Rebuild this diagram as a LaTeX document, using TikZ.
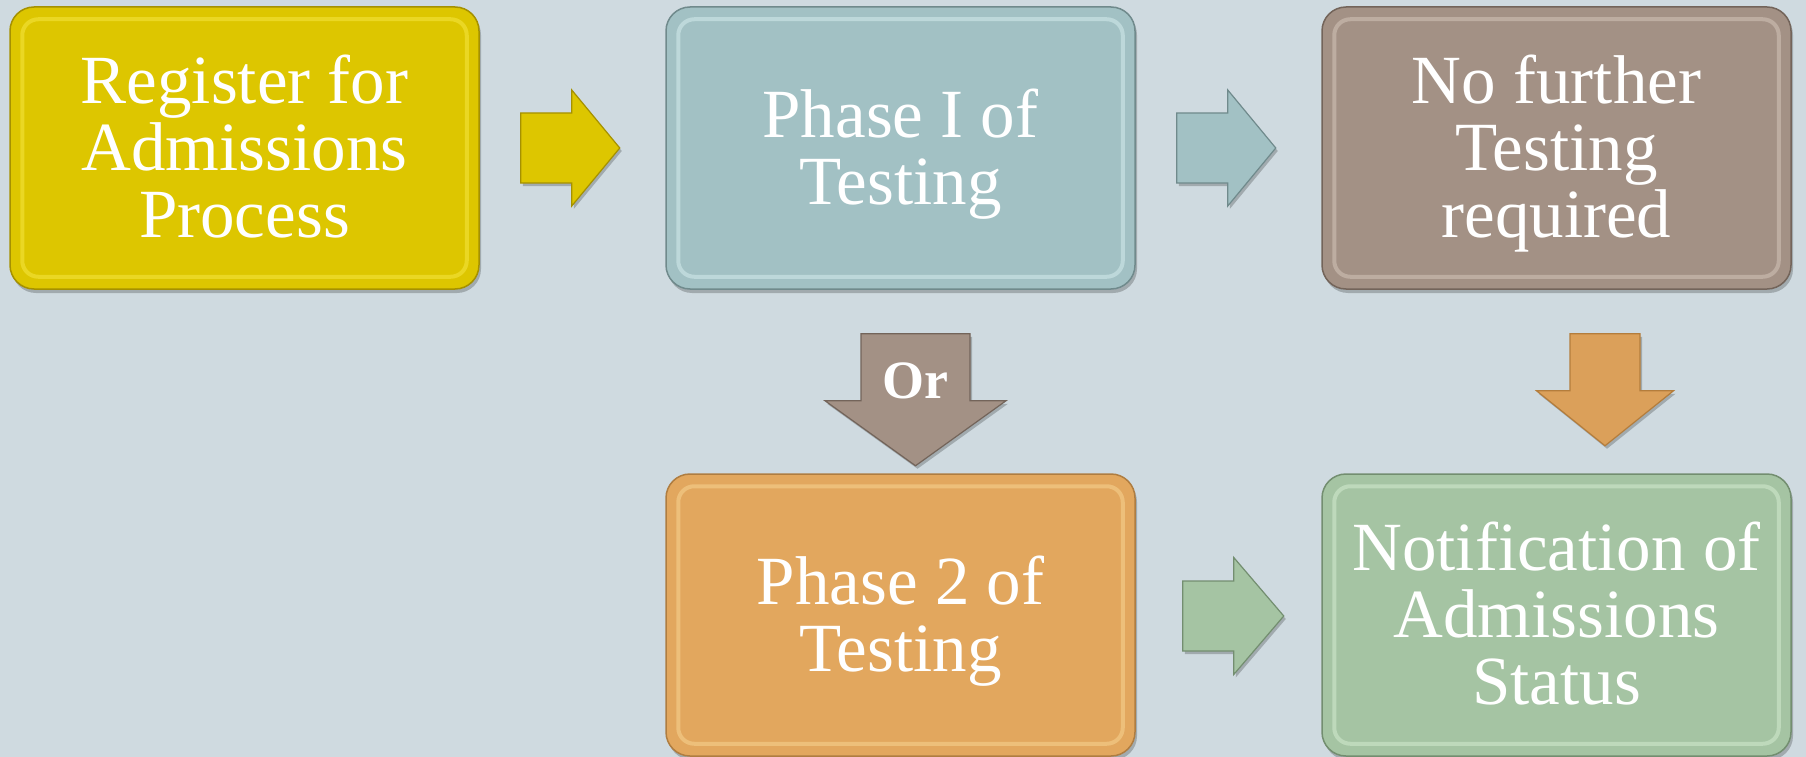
\documentclass[tikz,border=0pt]{standalone}
\usepackage{fontspec}
\setmainfont{Liberation Serif}
\usetikzlibrary{calc,shadows}
\definecolor{bg}{RGB}{207,218,224}
\definecolor{c1}{RGB}{221,198,0}\definecolor{c1d}{RGB}{165,145,0}\definecolor{c1r}{RGB}{255,242,90}
\definecolor{c2}{RGB}{162,193,196}\definecolor{c2d}{RGB}{112,138,140}\definecolor{c2r}{RGB}{230,252,252}
\definecolor{c3}{RGB}{163,145,133}\definecolor{c3d}{RGB}{115,100,90}\definecolor{c3r}{RGB}{230,215,205}
\definecolor{c4}{RGB}{226,167,94}\definecolor{c4d}{RGB}{175,125,65}\definecolor{c4r}{RGB}{255,228,165}
\definecolor{c5}{RGB}{165,196,163}\definecolor{c5d}{RGB}{115,142,112}\definecolor{c5r}{RGB}{228,250,225}
\definecolor{co}{RGB}{219,160,90}\definecolor{cod}{RGB}{180,125,60}
\newcommand\tline[1]{\smash{#1}\rule{0pt}{45pt}}
\tikzset{
  box/.style={rounded corners=24pt, minimum width=469pt, minimum height=282pt,
    inner sep=0pt, line width=1.5pt, text=white, align=center,
    font=\fontsize{69}{67}\selectfont,
    drop shadow={shadow xshift=2pt, shadow yshift=-4pt, opacity=0.22, fill=black}},
  rim/.style={rounded corners=16pt, line width=4pt, opacity=0.4},
  blk/.style={line width=1.2pt, line join=miter,
    drop shadow={shadow xshift=2pt, shadow yshift=-3pt, opacity=0.22, fill=black}},
}
\begin{document}
\begin{tikzpicture}[x=1pt,y=-1pt]
\useasboundingbox[fill=bg] (0,0) rectangle (1806,757);
% boxes
\node[box, fill=c1, draw=c1d] (b1) at (244.5,148) {\tline{Register for}\\\tline{Admissions}\\\tline{Process}};
\node[box, fill=c2, draw=c2d] (b2) at (900.5,148) {\tline{Phase I of}\\\tline{Testing}};
\node[box, fill=c3, draw=c3d] (b3) at (1556.5,148) {\tline{No further}\\\tline{Testing}\\\tline{required}};
\node[box, fill=c4, draw=c4d] (b4) at (900.5,615) {\tline{Phase 2 of}\\\tline{Testing}};
\node[box, fill=c5, draw=c5d] (b5) at (1556.5,615) {\tline{Notification of}\\\tline{Admissions}\\\tline{Status}};
% bevel rims
\foreach \b/\c in {b1/c1r, b2/c2r, b3/c3r, b4/c4r, b5/c5r}
  \draw[rim, draw=\c] ($(\b.north west)+(13,13)$) rectangle ($(\b.south east)+(-13,-13)$);
% block arrows (connectors)
\draw[blk, fill=c1, draw=c1d] ($(b1.east)+(41,0)$) ++(0,-35) -- ++(51,0) -- ++(0,-23) -- ++(48,58) -- ++(-48,58) -- ++(0,-23) -- ++(-51,0) -- cycle;
\draw[blk, fill=c2, draw=c2d] ($(b2.east)+(41,0)$) ++(0,-35) -- ++(51,0) -- ++(0,-23) -- ++(48,58) -- ++(-48,58) -- ++(0,-23) -- ++(-51,0) -- cycle;
\draw[blk, fill=c5, draw=c5d] ($(b4.east)+(47,1)$) ++(0,-35) -- ++(51,0) -- ++(0,-23.5) -- ++(50,58.5) -- ++(-50,58.5) -- ++(0,-23.5) -- ++(-51,0) -- cycle;
\draw[blk, fill=c3, draw=c3d] ($(b2.south)+(15,44)$) ++(-54.5,0) -- ++(0,67) -- ++(-36,0) -- ++(90.5,65) -- ++(90.5,-65) -- ++(-36,0) -- ++(0,-67) -- cycle;
\draw[blk, fill=co, draw=cod] ($(b3.south)+(48.5,44)$) ++(-35,0) -- ++(0,57) -- ++(-33.5,0) -- ++(68.5,55) -- ++(68.5,-55) -- ++(-33.5,0) -- ++(0,-57) -- cycle;
\node[font=\fontsize{54}{54}\selectfont\bfseries, text=white, anchor=base, inner sep=0pt] (ortext) at ($(b2.south)+(15,109)$) {Or};
\end{tikzpicture}
\end{document}
